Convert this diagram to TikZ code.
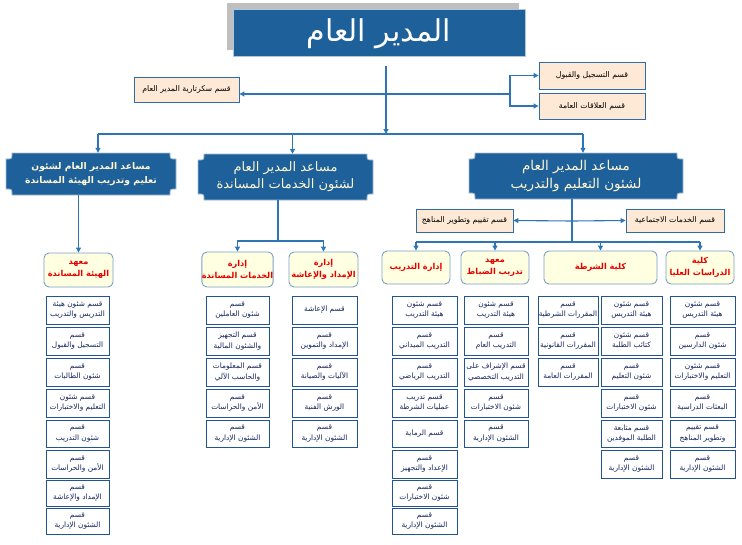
\documentclass[tikz,border=0pt]{standalone}
\usepackage{fontspec}
\newfontfamily\arabicfont[Script=Arabic]{DejaVu Sans}
\TeXXeTstate=1
\usetikzlibrary{arrows.meta}
\newcommand\rl[1]{\beginR #1\endR}
\definecolor{mainblue}{RGB}{30,96,153}
\definecolor{conn}{RGB}{46,117,182}
\definecolor{childb}{RGB}{34,84,148}
\definecolor{childt}{RGB}{20,36,90}
\definecolor{peachf}{RGB}{253,233,213}
\definecolor{peachb}{RGB}{46,109,164}
\definecolor{lthreef}{RGB}{255,255,225}
\definecolor{lthreeb}{RGB}{120,160,200}
\definecolor{redtxt}{RGB}{232,0,0}
\definecolor{creamtxt}{RGB}{255,246,214}
\newcommand\bx[7]{\node[#1, minimum width={(#5-#3)*1pt}, minimum height={(#6-#4)*1pt}] (#2) at ({(#3+#5)/2},{(#4+#6)/2}) {#7};}
\newcommand\plq[7]{%
  \path[plaque] (#3+6,#4) -- (#5-6,#4) .. controls (#5-6,#4+6) .. (#5,#4+6) -- (#5,#6-6) .. controls (#5-6,#6-6) .. (#5-6,#6) -- (#3+6,#6) .. controls (#3+6,#6-6) .. (#3,#6-6) -- (#3,#4+6) .. controls (#3+6,#4+6) .. (#3+6,#4) -- cycle;
  \node[plaquetext, font=#7, minimum width={(#5-#3)*1pt}, minimum height={(#6-#4)*1pt}] (#1) at ({(#3+#5)/2},{(#4+#6)/2}) {#2};}
\newcommand\childcol[4]{%
  \foreach \txt [count=\i] in {#4} {
    \pgfmathsetmacro\ytop{{296,327,358,389,420,450,480,508}[\i-1]}
    \pgfmathsetmacro\ybot{{324,355,386,417,447,478,506,534}[\i-1]}
    \node[child, minimum width={(#3-#2)*1pt}, minimum height={(\ybot-\ytop)*1pt}] (#1-\i) at ({(#2+#3)/2},{(\ytop+\ybot)/2}) {\txt};
  }}
\begin{document}
\begin{tikzpicture}[x=1pt,y=-1pt,
  arr/.style={draw=conn, line width=1.1pt, -{Triangle[length=5pt,width=5pt]}},
  ln/.style={draw=conn, line width=1.1pt},
  child/.style={draw=childb, fill=white, line width=0.9pt, inner sep=0pt, align=center, font=\arabicfont\fontsize{7.4}{10.5}\selectfont, text=childt},
  lvlthree/.style={draw=lthreeb, fill=lthreef, rounded corners=5pt, line width=0.9pt, align=center, font=\arabicfont\bfseries\fontsize{8.2}{12}\selectfont, text=redtxt, inner sep=0pt},
  peach/.style={draw=peachb, fill=peachf, line width=0.9pt, font=\arabicfont\fontsize{7.8}{9}\selectfont, text=black, inner sep=0pt},
  plaque/.style={fill=mainblue, draw=mainblue!40, line width=0.8pt},
  plaquetext/.style={inner sep=0pt, align=center, text=creamtxt}]
\useasboundingbox (0,0) rectangle (742,544);
% title
\fill[black!25] (227,3) rectangle (519,50);
\draw[fill=mainblue, draw=mainblue!35, line width=0.8pt] (233,9) rectangle (525,56);
\node[text=white, font=\arabicfont\fontsize{30}{34}\selectfont, inner sep=0pt] (title) at (379,34) {\rl{المدير العام}};
% top small boxes
\bx{peach}{sec}{134}{77}{239}{102}{\rl{قسم سكرتارية المدير العام}}
\bx{peach}{reg}{539}{62}{645}{89}{\rl{قسم التسجيل والقبول}}
\bx{peach}{rel}{539}{93}{645}{119}{\rl{قسم العلاقات العامة}}
\coordinate (t0) at (386,66);
\coordinate (j2) at (386,134);
\coordinate (j1) at (510,94);
\draw[arr] (t0) -- (j2);
\draw[ln] (386,94) -- (j1);
\draw[arr] (j1) -- (sec.east |- j1);
\draw[arr] (j1) |- (reg.west);
\draw[arr] (j1) |- (rel.west);
% level 2
\plq{A1}{\rl{مساعد المدير العام لشئون}\\\rl{تعليم وتدريب الهيئة المساندة}}{6}{153}{176}{195}{\arabicfont\bfseries\fontsize{9.2}{14}\selectfont}
\plq{A2}{\rl{مساعد المدير العام}\\\rl{لشئون الخدمات المساندة}}{198}{154}{373}{200}{\arabicfont\fontsize{13}{17}\selectfont}
\plq{A3}{\rl{مساعد المدير العام}\\\rl{لشئون التعليم والتدريب}}{469}{153}{683}{199}{\arabicfont\fontsize{13.5}{18}\selectfont}
\draw[ln] ([xshift=7pt]A1.north |- j2) -- ([xshift=7pt]A3.north |- j2);
\draw[arr] ([xshift=7pt]A1.north |- j2) -- ([xshift=7pt]A1.north);
\draw[arr] ([xshift=7pt]A2.north |- j2) -- ([xshift=7pt]A2.north);
\draw[arr] ([xshift=7pt]A3.north |- j2) -- ([xshift=7pt]A3.north);
% level 3
\bx{lvlthree}{B1}{44}{253}{113}{287}{\rl{معهد}\\\rl{الهيئة المساندة}}
\bx{lvlthree}{B2}{203}{252}{272}{287}{\rl{إدارة}\\\rl{الخدمات المساندة}}
\bx{lvlthree}{B3}{289}{252}{358}{287}{\rl{إدارة}\\\rl{الإمداد والإعاشة}}
\bx{lvlthree}{B4}{382}{251}{450}{284}{\rl{إدارة التدريب}}
\bx{lvlthree}{B5}{461}{251}{529}{284}{\rl{معهد}\\\rl{تدريب الضباط}}
\bx{lvlthree}{B6}{544}{251}{657}{284}{\rl{كلية الشرطة}}
\bx{lvlthree}{B7}{666}{251}{734}{284}{\rl{كلية}\\\rl{الدراسات العليا}}
\bx{peach}{eval}{416}{209}{513}{232}{\rl{قسم تقييم وتطوير المناهج}}
\bx{peach}{soc}{626}{209}{724}{232}{\rl{قسم الخدمات الاجتماعية}}
\draw[arr] (B1.north |- A1.south) -- (B1.north);
\coordinate (j3) at (278,241);
\draw[ln] (j3 |- A2.south) -- (j3);
\draw[arr] (j3) -| (B2.north);
\draw[arr] (j3) -| (B3.north);
\coordinate (j4) at (572,221);
\coordinate (j5) at (572,242);
\draw[ln] (j5 |- A3.south) -- (j5);
\draw[arr] (j4) -- (eval.east);
\draw[arr] (j4) -- (soc.west);
\draw[ln] (B4.north |- j5) -- (B7.north |- j5);
\foreach \b in {B4,B5,B6,B7} \draw[arr] (\b.north |- j5) -- (\b.north);
% children
\childcol{C1}{46}{109}{{\rl{قسم شئون هيئة}\\\rl{التدريس والتدريب}},{\rl{قسم}\\\rl{التسجيل والقبول}},{\rl{قسم}\\\rl{شئون الطالبات}},{\rl{قسم شئون}\\\rl{التعليم والاختبارات}},{\rl{قسم}\\\rl{شئون التدريب}},{\rl{قسم}\\\rl{الأمن والحراسات}},{\rl{قسم}\\\rl{الإمداد والإعاشة}},{\rl{قسم}\\\rl{الشئون الإدارية}}}
\childcol{C2}{206}{269}{{\rl{قسم}\\\rl{شئون العاملين}},{\rl{قسم التجهيز}\\\rl{والشئون المالية}},{\rl{قسم المعلومات}\\\rl{والحاسب الآلي}},{\rl{قسم}\\\rl{الأمن والحراسات}},{\rl{قسم}\\\rl{الشئون الإدارية}}}
\childcol{C3}{292}{357}{{\rl{قسم الإعاشة}},{\rl{قسم}\\\rl{الإمداد والتموين}},{\rl{قسم}\\\rl{الآليات والصيانة}},{\rl{قسم}\\\rl{الورش الفنية}},{\rl{قسم}\\\rl{الشئون الإدارية}}}
\childcol{C4}{392}{457}{{\rl{قسم شئون}\\\rl{هيئة التدريب}},{\rl{قسم}\\\rl{التدريب الميداني}},{\rl{قسم}\\\rl{التدريب الرياضي}},{\rl{قسم تدريب}\\\rl{عمليات الشرطة}},{\rl{قسم الرماية}},{\rl{قسم}\\\rl{الإعداد والتجهيز}},{\rl{قسم}\\\rl{شئون الاختبارات}},{\rl{قسم}\\\rl{الشئون الإدارية}}}
\childcol{C5}{464}{528}{{\rl{قسم شئون}\\\rl{هيئة التدريب}},{\rl{قسم}\\\rl{التدريب العام}},{\rl{قسم الإشراف على}\\\rl{التدريب التخصصي}},{\rl{قسم}\\\rl{شئون الاختبارات}},{\rl{قسم}\\\rl{الشئون الإدارية}}}
\childcol{C6}{538}{598}{{\rl{قسم}\\\rl{المقررات الشرطية}},{\rl{قسم}\\\rl{المقررات القانونية}},{\rl{قسم}\\\rl{المقررات العامة}}}
\childcol{C7}{601}{662}{{\rl{قسم شئون}\\\rl{هيئة التدريس}},{\rl{قسم شئون}\\\rl{كتائب الطلبة}},{\rl{قسم}\\\rl{شئون التعليم}},{\rl{قسم}\\\rl{شئون الاختبارات}},{\rl{قسم متابعة}\\\rl{الطلبة الموفدين}},{\rl{قسم}\\\rl{الشئون الإدارية}}}
\childcol{C8}{670}{735}{{\rl{قسم شئون}\\\rl{هيئة التدريس}},{\rl{قسم}\\\rl{شئون الدارسين}},{\rl{قسم شئون}\\\rl{التعليم والاختبارات}},{\rl{قسم}\\\rl{البعثات الدراسية}},{\rl{قسم تقييم}\\\rl{وتطوير المناهج}},{\rl{قسم}\\\rl{الشئون الإدارية}}}
\end{tikzpicture}
\end{document}
